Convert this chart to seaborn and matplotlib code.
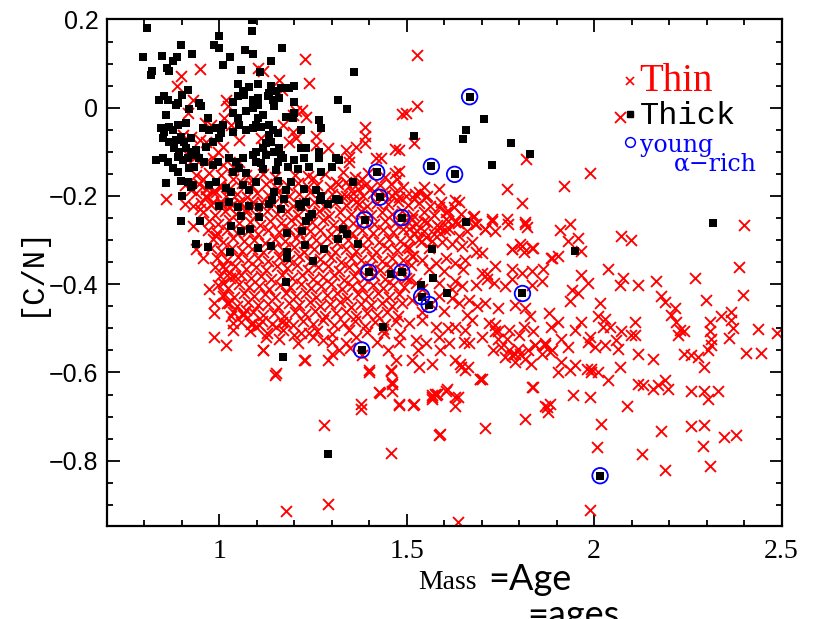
import matplotlib
matplotlib.use("Agg")
import matplotlib.pyplot as plt
from matplotlib.lines import Line2D
from matplotlib.ticker import MultipleLocator
import pandas as pd
import seaborn as sns

# ---- thin-disc stars (mass, [C/N]) ----
thin_upper = [
    (0.950, 0.087), (0.899, 0.072), (0.888, 0.049), (0.930, 0.018), (1.019, 0.018), (1.023, 0.003),
    (0.917, -0.012), (0.961, -0.035), (0.979, -0.039), (1.014, -0.024), (1.032, -0.039), (0.903, -0.062),
    (0.926, -0.066), (0.948, -0.073), (0.965, -0.077), (1.054, -0.073), (0.997, -0.100), (1.010, -0.088),
    (0.917, -0.107), (0.934, -0.115), (0.965, -0.123), (0.983, -0.115), (1.010, -0.130), (1.036, -0.134),
    (1.054, -0.123), (0.939, -0.153), (0.957, -0.161), (0.974, -0.149), (1.005, -0.153), (1.036, -0.161),
    (1.072, -0.153), (1.090, -0.161), (0.908, -0.176), (0.926, -0.187), (0.965, -0.184), (0.983, -0.191),
    (1.001, -0.180), (0.859, -0.206), (0.908, -0.218), (0.930, -0.222), (0.948, -0.229), (0.965, -0.203),
    (0.983, -0.214), (1.005, -0.218), (1.027, -0.225), (1.054, -0.214), (1.072, -0.229), (1.090, -0.214),
    (1.229, 0.111), (1.239, 0.056), (1.160, 0.064), (1.167, 0.041), (1.116, 0.083), (1.103, 0.091),
    (1.390, -0.043), (1.390, -0.065), (1.390, -0.081), (1.479, -0.096), (1.470, -0.149), (1.364, -0.088),
    (1.346, -0.111), (1.222, -0.005), (1.231, -0.020), (1.205, -0.008), (1.196, -0.016), (1.487, -0.014),
    (1.469, -0.094), (1.480, -0.144), (1.418, -0.115), (1.431, -0.115), (1.338, -0.096), (1.347, -0.123),
    (1.289, -0.092), (1.258, -0.085), (1.258, -0.065), (1.169, -0.039), (1.196, -0.054), (1.205, -0.069),
    (1.112, -0.069), (1.116, -0.088), (1.187, -0.077), (1.462, -0.199), (1.480, -0.203), (1.382, -0.161),
    (1.390, -0.176), (1.369, -0.184), (1.329, -0.146), (1.338, -0.168), (1.311, -0.168), (1.338, -0.199),
    (1.356, -0.206), (1.373, -0.218),
    (1.528, 0.120), (1.528, 0.003), (1.497, -0.012), (1.519, -0.081), (1.818, -0.117), (1.769, -0.184),
    (1.807, -0.215), (1.546, -0.180), (1.533, -0.191), (1.551, -0.203), (1.586, -0.185), (1.519, -0.206),
    (1.555, -0.199), (1.630, -0.210), (1.639, -0.214), (1.626, -0.225), (1.586, -0.225), (1.604, -0.237),
    (1.679, -0.245),
]

thin_core = [
    (1.118, -0.151), (1.149, -0.158), (1.202, -0.153), (1.251, -0.160), (1.283, -0.150), (1.362, -0.157),
    (1.397, -0.149), (1.441, -0.156), (1.475, -0.161), (1.236, -0.154),
    (0.945, -0.172), (0.972, -0.179), (1.003, -0.174), (1.028, -0.181), (1.061, -0.170), (1.087, -0.177),
    (1.124, -0.173), (1.153, -0.182), (1.181, -0.175), (1.209, -0.171), (1.236, -0.179), (1.262, -0.174),
    (1.295, -0.180), (1.318, -0.172), (1.347, -0.177), (1.371, -0.170), (1.404, -0.181), (1.428, -0.175),
    (1.458, -0.172), (1.489, -0.179),
    (0.938, -0.194), (0.966, -0.200), (0.991, -0.192), (1.019, -0.199), (1.047, -0.195), (1.073, -0.202),
    (1.102, -0.193), (1.131, -0.198), (1.158, -0.191), (1.186, -0.201), (1.214, -0.196), (1.243, -0.192),
    (1.271, -0.203), (1.301, -0.195), (1.327, -0.199), (1.356, -0.193), (1.383, -0.201), (1.411, -0.194),
    (1.442, -0.198), (1.468, -0.191), (1.497, -0.200), (1.523, -0.195),
    (0.951, -0.215), (0.977, -0.221), (1.006, -0.213), (1.033, -0.220), (1.059, -0.216), (1.088, -0.223),
    (1.114, -0.214), (1.143, -0.219), (1.171, -0.212), (1.197, -0.222), (1.226, -0.217), (1.254, -0.213),
    (1.282, -0.224), (1.309, -0.216), (1.338, -0.220), (1.366, -0.214), (1.393, -0.222), (1.421, -0.215),
    (1.449, -0.219), (1.476, -0.212), (1.504, -0.221), (1.532, -0.216), (1.561, -0.223), (1.592, -0.214),
    (0.958, -0.236), (0.989, -0.242), (1.016, -0.234), (1.044, -0.241), (1.071, -0.237), (1.099, -0.244),
    (1.127, -0.235), (1.155, -0.240), (1.182, -0.233), (1.211, -0.243), (1.239, -0.238), (1.267, -0.234),
    (1.294, -0.245), (1.322, -0.237), (1.351, -0.241), (1.378, -0.235), (1.405, -0.243), (1.434, -0.236),
    (1.461, -0.240), (1.488, -0.233), (1.516, -0.242), (1.545, -0.237), (1.573, -0.244), (1.611, -0.235),
    (1.645, -0.241),
    (0.972, -0.257), (0.998, -0.263), (1.026, -0.255), (1.053, -0.262), (1.081, -0.258), (1.108, -0.265),
    (1.136, -0.256), (1.165, -0.261), (1.192, -0.254), (1.219, -0.264), (1.247, -0.259), (1.276, -0.255),
    (1.303, -0.266), (1.331, -0.258), (1.358, -0.262), (1.387, -0.256), (1.414, -0.264), (1.441, -0.257),
    (1.469, -0.261), (1.497, -0.254), (1.524, -0.263), (1.553, -0.258), (1.581, -0.265), (1.609, -0.256),
    (1.637, -0.262), (1.662, -0.255),
    (0.969, -0.277), (0.994, -0.284), (1.021, -0.276), (1.048, -0.283), (1.077, -0.279), (1.103, -0.286),
    (1.131, -0.277), (1.159, -0.282), (1.186, -0.275), (1.214, -0.285), (1.242, -0.280), (1.269, -0.276),
    (1.297, -0.287), (1.325, -0.279), (1.353, -0.283), (1.381, -0.277), (1.409, -0.285), (1.436, -0.278),
    (1.463, -0.282), (1.491, -0.275), (1.519, -0.284), (1.547, -0.279), (1.574, -0.286), (1.602, -0.277),
    (0.984, -0.298), (1.011, -0.304), (1.038, -0.296), (1.066, -0.303), (1.093, -0.299), (1.121, -0.306),
    (1.149, -0.297), (1.176, -0.302), (1.204, -0.295), (1.232, -0.305), (1.259, -0.300), (1.288, -0.296),
    (1.315, -0.307), (1.343, -0.299), (1.371, -0.303), (1.398, -0.297), (1.426, -0.305), (1.454, -0.298),
    (1.481, -0.302), (1.509, -0.295), (1.537, -0.304),
    (0.979, -0.319), (1.006, -0.325), (1.034, -0.317), (1.061, -0.324), (1.088, -0.320), (1.116, -0.327),
    (1.143, -0.318), (1.171, -0.323), (1.199, -0.316), (1.227, -0.326), (1.254, -0.321), (1.282, -0.317),
    (1.309, -0.328), (1.337, -0.320), (1.364, -0.324), (1.392, -0.318), (1.419, -0.326), (1.447, -0.319),
    (1.475, -0.323), (1.502, -0.316),
    (0.993, -0.340), (1.021, -0.346), (1.049, -0.338), (1.076, -0.345), (1.104, -0.341), (1.131, -0.348),
    (1.159, -0.339), (1.187, -0.344), (1.214, -0.337), (1.242, -0.347), (1.269, -0.342), (1.297, -0.338),
    (1.324, -0.349), (1.352, -0.341), (1.379, -0.345), (1.407, -0.339), (1.435, -0.347), (1.462, -0.340),
    (1.489, -0.344), (1.517, -0.337),
    (0.988, -0.360), (1.015, -0.366), (1.043, -0.358), (1.071, -0.365), (1.098, -0.361), (1.126, -0.368),
    (1.153, -0.359), (1.181, -0.364), (1.208, -0.357), (1.236, -0.367), (1.263, -0.362), (1.291, -0.358),
    (1.319, -0.369), (1.346, -0.361), (1.373, -0.365), (1.401, -0.359), (1.428, -0.367), (1.456, -0.360),
    (1.484, -0.364), (1.511, -0.357),
    (1.002, -0.381), (1.029, -0.387), (1.057, -0.379), (1.084, -0.386), (1.112, -0.382), (1.139, -0.389),
    (1.167, -0.380), (1.195, -0.385), (1.222, -0.378), (1.249, -0.388), (1.277, -0.383), (1.305, -0.379),
    (1.332, -0.390), (1.359, -0.382), (1.387, -0.386), (1.414, -0.380), (1.442, -0.388), (1.469, -0.381),
    (1.497, -0.385),
    (0.997, -0.402), (1.024, -0.408), (1.052, -0.400), (1.079, -0.407), (1.107, -0.403), (1.134, -0.410),
    (1.162, -0.401), (1.189, -0.406), (1.217, -0.399), (1.244, -0.409), (1.272, -0.404), (1.299, -0.400),
    (1.327, -0.411), (1.354, -0.403), (1.382, -0.407), (1.409, -0.401), (1.437, -0.409), (1.464, -0.402),
    (1.492, -0.406),
    (1.012, -0.422), (1.039, -0.428), (1.067, -0.420), (1.094, -0.427), (1.122, -0.423), (1.149, -0.430),
    (1.177, -0.421), (1.204, -0.426), (1.232, -0.419), (1.259, -0.429), (1.287, -0.424), (1.314, -0.420),
    (1.342, -0.431), (1.369, -0.423), (1.397, -0.427), (1.424, -0.421), (1.452, -0.429), (1.479, -0.422),
    (1.021, -0.443), (1.048, -0.449), (1.076, -0.441), (1.103, -0.448), (1.131, -0.444), (1.158, -0.451),
    (1.186, -0.442), (1.213, -0.447), (1.241, -0.440), (1.268, -0.450), (1.296, -0.445), (1.323, -0.441),
    (1.351, -0.452), (1.378, -0.444), (1.406, -0.448), (1.433, -0.442), (1.461, -0.450), (1.488, -0.443),
    (1.036, -0.464), (1.063, -0.470), (1.091, -0.462), (1.118, -0.469), (1.146, -0.465), (1.173, -0.472),
    (1.201, -0.463), (1.228, -0.468), (1.256, -0.461), (1.283, -0.471), (1.311, -0.466), (1.338, -0.462),
    (1.366, -0.473), (1.393, -0.465), (1.421, -0.469), (1.448, -0.463), (1.476, -0.471),
    (1.058, -0.485), (1.085, -0.491), (1.113, -0.483), (1.141, -0.490), (1.168, -0.486), (1.196, -0.493),
    (1.223, -0.484), (1.251, -0.489), (1.278, -0.482), (1.306, -0.492), (1.333, -0.487), (1.361, -0.483),
    (1.388, -0.494), (1.416, -0.486), (1.443, -0.490), (1.471, -0.484),
    (1.082, -0.505), (1.128, -0.511), (1.171, -0.503), (1.219, -0.510), (1.262, -0.506), (1.301, -0.513),
    (1.347, -0.504), (1.394, -0.509), (1.437, -0.502), (1.482, -0.512),
    (1.250, -0.520), (1.300, -0.530), (1.350, -0.545), (1.420, -0.530), (1.450, -0.550), (1.380, -0.560),
    (1.200, -0.515), (1.160, -0.525), (1.440, -0.510), (1.480, -0.530),
]

thin_mid = [
    (1.515, -0.252), (1.546, -0.256), (1.604, -0.252), (1.630, -0.260), (1.684, -0.264), (1.728, -0.252),
    (1.768, -0.252), (1.816, -0.264), (1.710, -0.275), (1.737, -0.279), (1.613, -0.275), (1.586, -0.271),
    (1.506, -0.275), (1.528, -0.279), (1.533, -0.298), (1.551, -0.294), (1.568, -0.302), (1.595, -0.305),
    (1.622, -0.309), (1.648, -0.313), (1.675, -0.305), (1.684, -0.328), (1.781, -0.321), (1.803, -0.309),
    (1.834, -0.317), (1.812, -0.328), (1.515, -0.336), (1.542, -0.344), (1.577, -0.351), (1.604, -0.340),
    (1.630, -0.351), (1.657, -0.344), (1.701, -0.374), (1.715, -0.377), (1.737, -0.359), (1.781, -0.366),
    (1.808, -0.374), (1.834, -0.370), (1.865, -0.366), (1.887, -0.340), (1.506, -0.389), (1.524, -0.397),
    (1.586, -0.397), (1.630, -0.393), (1.648, -0.405), (1.684, -0.401), (1.715, -0.389), (1.732, -0.397),
    (1.763, -0.405), (1.781, -0.389), (1.834, -0.401), (1.860, -0.393), (1.515, -0.435), (1.586, -0.427),
    (1.622, -0.431), (1.639, -0.443), (1.666, -0.435), (1.688, -0.450), (1.710, -0.443), (1.745, -0.454),
    (1.790, -0.446), (1.816, -0.454), (1.830, -0.473), (1.879, -0.465), (1.506, -0.488), (1.542, -0.481),
    (1.577, -0.496), (1.630, -0.496), (1.657, -0.504), (1.675, -0.481), (1.719, -0.488), (1.737, -0.507),
    (1.772, -0.504), (1.812, -0.496), (1.799, -0.515), (1.524, -0.526), (1.551, -0.534), (1.586, -0.519),
    (1.613, -0.534), (1.652, -0.530), (1.666, -0.534), (1.701, -0.519), (1.745, -0.523), (1.772, -0.549),
    (1.803, -0.557), (1.825, -0.549), (1.843, -0.538), (1.870, -0.534), (1.887, -0.549), (1.515, -0.572),
    (1.533, -0.587), (1.568, -0.580), (1.630, -0.572), (1.644, -0.587), (1.657, -0.595), (1.697, -0.614),
    (1.763, -0.565), (1.790, -0.557), (1.519, -0.671), (1.568, -0.660), (1.577, -0.652), (1.604, -0.641),
    (1.630, -0.656), (1.834, -0.633), (1.874, -0.679), (1.883, -0.671),
    (1.505, -0.318), (1.560, -0.318), (1.590, -0.285), (1.640, -0.290), (1.560, -0.365), (1.600, -0.370),
    (1.540, -0.410), (1.565, -0.445), (1.600, -0.460), (1.660, -0.470), (1.540, -0.462), (1.620, -0.410),
    (1.650, -0.365), (1.700, -0.330), (1.660, -0.280), (1.530, -0.550), (1.590, -0.550), (1.610, -0.500),
]

thin_lower = [
    (0.930, -0.267), (0.939, -0.321), (0.957, -0.340), (0.992, -0.290), (0.973, -0.411), (0.987, -0.443),
    (0.987, -0.465), (1.010, -0.427), (1.027, -0.443), (1.036, -0.488), (1.032, -0.473), (0.985, -0.519),
    (1.019, -0.538), (1.036, -0.504), (1.063, -0.465), (1.072, -0.458), (1.090, -0.488), (1.010, -0.359),
    (1.027, -0.374), (1.010, -0.397), (1.041, -0.382), (1.107, -0.492), (1.116, -0.549), (1.125, -0.519),
    (1.152, -0.496), (1.178, -0.488), (1.209, -0.534), (1.227, -0.572), (1.240, -0.511), (1.276, -0.526),
    (1.289, -0.572), (1.302, -0.557), (1.320, -0.549), (1.338, -0.534), (1.364, -0.519), (1.400, -0.595),
    (1.427, -0.645), (1.457, -0.595), (1.462, -0.625), (1.471, -0.572), (1.480, -0.671), (1.378, -0.671),
    (1.378, -0.683), (1.152, -0.602), (1.098, -0.496), (1.117, -0.549), (1.149, -0.606), (1.229, -0.572),
    (1.279, -0.719), (1.399, -0.600), (1.428, -0.647), (1.459, -0.597), (1.461, -0.622), (1.461, -0.643),
    (1.479, -0.673), (1.517, -0.673), (1.567, -0.656), (1.576, -0.648), (1.586, -0.742), (1.458, -0.782),
    (1.289, -0.898), (1.179, -0.913),
]

thin_outer = [
    (1.989, -0.147), (1.919, -0.178), (2.068, -0.020), (2.399, -0.265), (2.073, -0.290), (2.099, -0.300),
    (1.909, -0.277), (1.935, -0.264), (1.931, -0.302), (1.957, -0.295), (1.771, -0.264), (1.816, -0.260),
    (1.820, -0.271), (1.727, -0.256), (1.709, -0.275), (1.678, -0.248), (1.683, -0.264), (1.780, -0.321),
    (1.807, -0.313), (1.838, -0.317), (1.886, -0.340), (1.904, -0.336), (1.966, -0.325),
    (2.387, -0.361), (2.396, -0.425), (2.268, -0.385), (2.299, -0.436), (2.489, -0.511), (2.436, -0.501),
    (2.405, -0.555), (2.445, -0.555), (2.365, -0.462), (2.365, -0.481), (2.370, -0.500), (2.361, -0.521),
    (2.339, -0.473), (2.308, -0.485), (2.308, -0.507), (2.312, -0.538), (2.303, -0.549), (2.312, -0.523),
    (2.294, -0.587), (2.259, -0.561), (2.277, -0.565), (2.241, -0.557), (2.259, -0.641), (2.294, -0.641),
    (2.303, -0.660), (2.330, -0.641), (2.259, -0.721), (2.294, -0.719), (2.290, -0.766), (2.308, -0.811),
    (2.347, -0.747), (2.379, -0.742), (2.179, -0.732), (2.188, -0.820), (2.128, -0.785), (2.018, -0.717),
    (2.009, -0.770), (1.989, -0.911), (1.638, -0.940), (2.179, -0.427), (2.188, -0.440), (2.215, -0.454),
    (2.206, -0.469), (2.219, -0.485), (2.228, -0.504), (2.223, -0.515), (2.241, -0.507), (2.166, -0.393),
    (2.117, -0.401), (2.108, -0.485), (2.108, -0.515), (2.117, -0.557), (2.157, -0.569), (2.117, -0.625),
    (2.130, -0.629), (2.157, -0.637), (2.170, -0.629), (2.197, -0.637), (2.188, -0.618), (2.068, -0.587),
    (2.089, -0.675), (2.059, -0.526), (2.068, -0.401), (2.077, -0.385), (2.037, -0.366), (2.015, -0.442),
    (2.028, -0.478), (2.024, -0.496), (1.989, -0.519), (1.993, -0.591), (2.011, -0.599), (2.037, -0.618),
    (1.989, -0.656), (1.944, -0.652),
    (1.940, -0.412), (1.957, -0.420), (1.935, -0.439), (1.966, -0.378), (1.984, -0.397), (1.966, -0.485),
    (1.949, -0.504), (1.984, -0.530), (2.002, -0.542), (1.913, -0.523), (1.931, -0.542), (1.913, -0.576),
    (1.886, -0.496), (1.904, -0.485), (1.882, -0.553), (1.869, -0.538), (1.838, -0.507), (1.842, -0.538),
    (1.860, -0.557), (1.833, -0.580), (1.798, -0.546), (1.780, -0.561), (1.816, -0.569), (1.789, -0.576),
    (1.736, -0.492), (1.745, -0.507), (1.767, -0.523), (1.753, -0.542), (1.731, -0.549), (1.696, -0.614),
    (1.838, -0.633), (1.816, -0.705), (1.869, -0.675), (1.878, -0.690), (1.709, -0.725), (1.904, -0.599),
    (1.935, -0.595), (1.949, -0.583), (1.980, -0.591), (1.993, -0.599), (1.567, -0.652), (1.580, -0.648),
    (1.638, -0.656), (1.629, -0.675), (1.589, -0.740), (1.607, -0.637), (1.643, -0.580), (1.665, -0.587),
    (1.700, -0.614), (2.011, -0.471), (2.042, -0.498), (2.073, -0.507), (2.028, -0.538), (2.064, -0.546),
    (2.099, -0.515),
]

# ---- thick-disc stars (mass, [C/N]) ----
thick_points = [
    (0.808, 0.181), (1.087, 0.198), (1.087, 0.174), (0.999, 0.162), (0.987, 0.142), (1.000, 0.135),
    (0.899, 0.142), (0.928, 0.121), (0.798, 0.114), (0.848, 0.117), (0.887, 0.114), (0.877, 0.106),
    (1.029, 0.115), (1.069, 0.130), (1.090, 0.121), (1.010, 0.097), (1.059, 0.085), (0.822, 0.083),
    (0.819, 0.075), (0.861, 0.091), (0.867, 0.083), (1.050, 0.053), (1.063, 0.037), (1.080, 0.046),
    (0.902, 0.030), (0.917, 0.041), (0.840, 0.018), (0.854, 0.026), (0.864, 0.018), (0.886, 0.007),
    (0.890, 0.011), (0.947, 0.011), (0.952, 0.003), (0.920, -0.002), (1.036, 0.014), (1.050, 0.026),
    (1.066, 0.030), (1.090, 0.018), (1.036, -0.011), (1.050, -0.023), (1.072, -0.008), (1.090, 0.000),
    (0.859, -0.016), (0.912, -0.034), (0.970, -0.023), (0.846, -0.046), (0.854, -0.054), (0.867, -0.043),
    (0.877, -0.050), (0.890, -0.039), (0.957, -0.046), (0.973, -0.050), (0.992, -0.046), (1.010, -0.039),
    (1.005, -0.057), (1.036, -0.054), (1.053, -0.039), (1.072, -0.050), (1.090, -0.046), (0.850, -0.069),
    (0.867, -0.077), (0.886, -0.073), (0.899, -0.066), (0.907, -0.077), (0.926, -0.069), (0.965, -0.088),
    (0.983, -0.077), (1.000, -0.069), (0.880, -0.091), (0.894, -0.100), (0.912, -0.091), (0.926, -0.100),
    (0.939, -0.096), (0.832, -0.119), (0.850, -0.114), (0.864, -0.123), (0.890, -0.111), (0.903, -0.119),
    (0.917, -0.114), (0.934, -0.107), (0.947, -0.114), (0.960, -0.123), (0.983, -0.130), (0.997, -0.123),
    (0.877, -0.137), (0.890, -0.146), (0.920, -0.137), (0.934, -0.134), (1.027, -0.114), (1.045, -0.123),
    (1.063, -0.114), (1.090, -0.107), (1.036, -0.146), (1.053, -0.137), (1.072, -0.149), (0.859, -0.171),
    (0.899, -0.165), (0.917, -0.168), (0.930, -0.176), (0.973, -0.176), (0.992, -0.168), (1.019, -0.183),
    (1.032, -0.191), (1.063, -0.176), (1.080, -0.187), (0.902, -0.199), (0.926, -0.180), (1.000, -0.222),
    (1.027, -0.214), (1.050, -0.225), (1.080, -0.222),
    (1.168, 0.136), (1.138, 0.106), (1.109, 0.082), (1.360, 0.082), (1.103, 0.053), (1.138, 0.049),
    (1.134, 0.034), (1.129, 0.026), (1.152, 0.037), (1.165, 0.045), (1.187, 0.045), (1.200, 0.049),
    (1.103, 0.022), (1.103, 0.007), (1.143, 0.018), (1.147, 0.003), (1.160, 0.022), (1.200, 0.013),
    (1.318, 0.018), (1.340, -0.002), (1.116, -0.016), (1.103, -0.024), (1.178, -0.020), (1.196, -0.024),
    (1.200, -0.012), (1.267, -0.027), (1.271, -0.046), (1.098, -0.039), (1.112, -0.043), (1.134, -0.039),
    (1.143, -0.050), (1.134, -0.062), (1.156, -0.058), (1.218, -0.050), (1.138, -0.077), (1.125, -0.081),
    (1.098, -0.100), (1.116, -0.092), (1.125, -0.107), (1.147, -0.100), (1.160, -0.092), (1.165, -0.107),
    (1.218, -0.092), (1.231, -0.092), (1.267, -0.100), (1.098, -0.123), (1.112, -0.126), (1.156, -0.123),
    (1.169, -0.115), (1.200, -0.119), (1.227, -0.115), (1.267, -0.115), (1.311, -0.115), (1.320, -0.119),
    (1.116, -0.138), (1.152, -0.142), (1.183, -0.134), (1.209, -0.138), (1.240, -0.134), (1.271, -0.146),
    (1.302, -0.134), (1.098, -0.168), (1.156, -0.165), (1.191, -0.168), (1.227, -0.184), (1.358, -0.168),
    (1.147, -0.191), (1.178, -0.187), (1.258, -0.187), (1.271, -0.199), (1.134, -0.218), (1.165, -0.229),
    (1.218, -0.225), (1.231, -0.214), (1.289, -0.218), (1.311, -0.206), (1.320, -0.210), (1.107, -0.225),
    (1.142, -0.210), (1.173, -0.206), (1.248, -0.241), (1.270, -0.210), (1.213, -0.218),
    (1.519, -0.065), (1.707, -0.025), (1.659, -0.050), (1.650, -0.071), (1.778, -0.081), (1.828, -0.104),
    (1.729, -0.130), (2.318, -0.261), (1.949, -0.325), (1.658, -0.258), (1.567, -0.321),
    (0.899, -0.257), (0.950, -0.257), (0.939, -0.309), (0.970, -0.315), (1.029, -0.328), (1.032, -0.267),
    (1.059, -0.279), (1.081, -0.275), (1.059, -0.245), (1.107, -0.248), (1.231, -0.256), (1.240, -0.248),
    (1.180, -0.283), (1.138, -0.313), (1.103, -0.317), (1.230, -0.312), (1.180, -0.328), (1.180, -0.340),
    (1.280, -0.321), (1.249, -0.347), (1.178, -0.395), (1.331, -0.275), (1.340, -0.286), (1.318, -0.298),
    (1.369, -0.309), (1.459, -0.376), (1.438, -0.498), (1.169, -0.566), (1.222, -0.279), (1.570, -0.387),
    (1.537, -0.401), (1.608, -0.421), (1.290, -0.784),
]

# ---- young alpha-rich stars (mass, [C/N]) ----
young_points = [
    (1.668, 0.025), (1.420, -0.146), (1.566, -0.133), (1.628, -0.151), (1.428, -0.203), (1.388, -0.254),
    (1.487, -0.249), (1.399, -0.373), (1.487, -0.373), (1.540, -0.428), (1.560, -0.446), (1.809, -0.421),
    (1.380, -0.549), (2.016, -0.834),
]

x_ticks = [1, 1.5, 2, 2.5]
x_tick_labels = ["1", "1.5", "2", "2.5"]
y_ticks = [0.2, 0, -0.2, -0.4, -0.6, -0.8]
y_tick_labels = ["0.2", "0", "\u22120.2", "\u22120.4", "\u22120.6", "\u22120.8"]
legend_labels = ["Thin", "Thick", "young", "\u03b1\u2212rich"]


def frame(points):
    return pd.DataFrame(points, columns=["mass", "cn"])


thin = frame(thin_upper + thin_core + thin_mid + thin_lower + thin_outer)
thick = frame(thick_points)
young = frame(young_points)

fig = plt.figure(figsize=(8.23, 6.19), dpi=100)
ax = fig.add_axes([0.1297, 0.1502, 0.8199, 0.8183])

sns.scatterplot(data=thin, x="mass", y="cn", marker="x", color="red", s=62,
                linewidth=1.35, ax=ax, legend=False, zorder=2)
sns.scatterplot(data=thick, x="mass", y="cn", marker="s", color="black", s=40,
                linewidth=0, ax=ax, legend=False, zorder=3)
sns.scatterplot(data=young, x="mass", y="cn", marker="s", color="black", s=40,
                linewidth=0, ax=ax, legend=False, zorder=3)
sns.scatterplot(data=young, x="mass", y="cn", marker="o", facecolor="none",
                edgecolor="blue", s=125, linewidth=1.3, ax=ax, legend=False, zorder=4)

ax.set_xlim(0.7, 2.5)
ax.set_ylim(-0.948, 0.2)
ax.set_xticks(x_ticks, labels=x_tick_labels)
ax.set_yticks(y_ticks, labels=y_tick_labels)
ax.xaxis.set_minor_locator(MultipleLocator(0.1))
ax.yaxis.set_minor_locator(MultipleLocator(0.05))
ax.tick_params(which="both", direction="in", top=True, right=True, width=1.3, color="black")
ax.tick_params(which="major", length=9)
ax.tick_params(which="minor", length=4.5)
ax.tick_params(axis="y", pad=6)
ax.tick_params(axis="x", pad=9)
for lbl in ax.get_xticklabels():
    lbl.set_fontfamily("Liberation Serif")
    lbl.set_fontsize(20)
for lbl in ax.get_yticklabels():
    lbl.set_fontfamily("Liberation Sans")
    lbl.set_fontsize(18)
for sp in ax.spines.values():
    sp.set_linewidth(1.6)
    sp.set_color("black")

ax.set_xlabel("Mass")
ax.xaxis.label.set(ha="left", va="baseline", family="Liberation Serif", size=20)
ax.xaxis.set_label_coords(0.461, -0.124)
ax.set_ylabel("[C/N]")
ax.yaxis.label.set(ha="center", va="center", family="Liberation Mono", size=22)
ax.yaxis.set_label_coords(-0.112, 0.505)

fig.text(488 / 823, 1 - 590 / 619, "=Age", family="Lato", fontsize=26,
         ha="left", va="baseline")
fig.text(527 / 823, 1 - 626 / 619, "=ages", family="Lato", fontsize=26,
         ha="left", va="baseline")

handles = [
    Line2D([], [], ls="none", marker="x", color="red", ms=6, mew=1.2),
    Line2D([], [], ls="none", marker="s", color="black", ms=4.5),
    Line2D([], [], ls="none", marker="o", mfc="none", mec="blue", ms=7, mew=1.1),
]
leg = ax.legend(handles, legend_labels[:3], loc="upper left", bbox_to_anchor=(0.765, 0.915),
                frameon=False, handlelength=0.5, handletextpad=0.1, labelspacing=0.05,
                borderpad=0, borderaxespad=0, fontsize=20)
texts = leg.get_texts()
texts[0].set(color="red", family="Liberation Serif", size=28)
texts[1].set(color="black", family="Liberation Mono", size=23)
texts[2].set(color="blue", family="DejaVu Serif", size=17)
ax.annotate(legend_labels[3], xy=(0, 0), xycoords=texts[2], xytext=(25, -10),
            textcoords="offset points", color="blue", family="DejaVu Serif", size=17,
            va="baseline", zorder=6)

fig.canvas.draw()
fig.savefig("out.png", dpi=100)
